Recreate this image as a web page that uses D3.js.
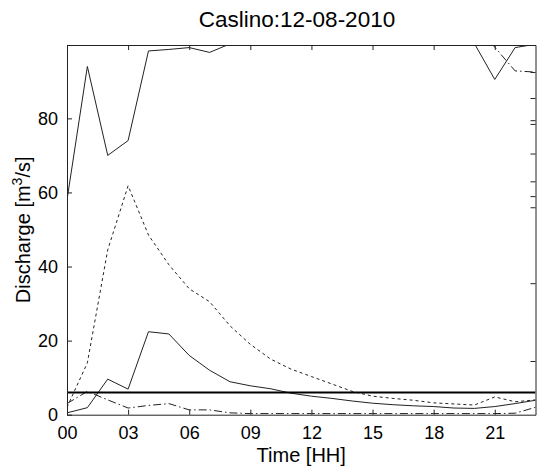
<!DOCTYPE html>
<html>
<head>
<meta charset="utf-8">
<script src="https://cdn.jsdelivr.net/npm/d3@7"></script>
<style>
  body { margin: 0; background: #fff; }
  text { font-family: Arial, "Liberation Sans", sans-serif; fill: #000; }
</style>
</head>
<body>
<div id="chart"></div>
<script>
(function(d3) {
  'use strict';

  var hours = [0, 1, 2, 3, 4, 5, 6, 7, 8, 9, 10, 11, 12, 13, 14, 15, 16, 17, 18, 19, 20, 21, 22, 23];
  var xTicks = [0, 3, 6, 9, 12, 15, 18, 21];
  var xTickLabels = ['00', '03', '06', '09', '12', '15', '18', '21'];
  var yTicks = [0, 20, 40, 60, 80];
  var rightTicks = [92.5, 85.5, 79.5, 78.5, 70.5, 63, 59, 56, 35.5, 14.5];
  var threshold = 6;

  // upper envelope (solid), goes off the top of the plot
  var upperSolid = [58, 94, 70, 74, 98.2, 98.6, 99.1, 97.8, 100.1, 103, 104, 105, 105, 104,
                    104, 103, 103, 102, 102, 101, 100.2, 90.5, 99.1, 100];
  // upper dash-dot, only visible at the end
  var upperDashDot = [106, 106, 106, 106, 106, 106, 106, 106, 106, 106, 106, 106, 106, 106,
                      106, 106, 106, 106, 106, 106, 106, 99.2, 92.8, 92.5];
  var dashed = [2, 14, 44.5, 61.8, 48.5, 40.5, 34, 30.5, 24, 19, 15, 12.3, 10.3, 8.3,
                6.3, 5.0, 4.4, 3.9, 3.2, 2.9, 2.6, 4.8, 3.5, 4.0];
  var middle = [0.5, 1.9, 9.6, 6.9, 22.4, 21.8, 16, 12, 8.9, 7.8, 7, 5.8, 5.0, 4.4,
                3.7, 3.1, 2.7, 2.4, 2.2, 1.8, 1.7, 2.2, 3.0, 3.9];
  var lowerDashDot = [3, 6.3, 4.0, 1.8, 2.5, 3.0, 1.3, 1.3, 0.5, 0.3, 0.3, 0.3, 0.3, 0.3,
                      0.3, 0.3, 0.3, 0.3, 0.3, 0.3, 0.3, 0.3, 0.4, 2];

  var series = [
    { values: upperSolid, dash: null },
    { values: upperDashDot, dash: '8,3,1.5,3' },
    { values: dashed, dash: '3,3' },
    { values: middle, dash: null },
    { values: lowerDashDot, dash: '8,3,1.5,3' }
  ];

  var width = 539;
  var height = 468;
  var margin = { top: 45, right: 3.5, bottom: 53.3, left: 67 };
  var innerW = width - margin.left - margin.right;
  var innerH = height - margin.top - margin.bottom;

  var x = d3.scaleLinear().domain([0, 23]).range([0, innerW]);
  var y = d3.scaleLinear().domain([0, 99.8]).range([innerH, 0]);

  var svg = d3.select('#chart')
    .append('svg')
    .attr('width', width)
    .attr('height', height);

  svg.append('defs').append('clipPath')
    .attr('id', 'plot-clip')
    .append('rect')
    .attr('width', innerW)
    .attr('height', innerH);

  var g = svg.append('g')
    .attr('transform', 'translate(' + margin.left + ',' + margin.top + ')');

  var line = d3.line()
    .x(function(d, i) { return x(hours[i]); })
    .y(function(d) { return y(d); });

  var plot = g.append('g').attr('clip-path', 'url(#plot-clip)');

  plot.selectAll('path.series')
    .data(series)
    .enter()
    .append('path')
    .attr('class', 'series')
    .attr('d', function(d) { return line(d.values); })
    .attr('fill', 'none')
    .attr('stroke', '#222')
    .attr('stroke-width', 1)
    .attr('stroke-dasharray', function(d) { return d.dash; });

  plot.append('line')
    .attr('x1', 0)
    .attr('x2', innerW)
    .attr('y1', y(threshold))
    .attr('y2', y(threshold))
    .attr('stroke', '#000')
    .attr('stroke-width', 2);

  // axes, MATLAB style: ticks pointing inward on all four sides
  var bottomAxis = d3.axisBottom(x)
    .tickValues(xTicks)
    .tickSizeInner(-5)
    .tickSizeOuter(0)
    .tickPadding(12)
    .tickFormat(function(d, i) { return xTickLabels[i]; });

  var leftAxis = d3.axisLeft(y)
    .tickValues(yTicks)
    .tickSizeInner(-5)
    .tickSizeOuter(0)
    .tickPadding(9);

  var gx = g.append('g')
    .attr('transform', 'translate(0,' + innerH + ')')
    .call(bottomAxis);

  var gy = g.append('g').call(leftAxis);

  g.append('g')
    .call(d3.axisTop(x).tickValues(xTicks).tickSizeInner(-5).tickSizeOuter(0).tickFormat(''));

  g.append('g')
    .attr('transform', 'translate(' + innerW + ',0)')
    .call(d3.axisRight(y).tickValues(rightTicks).tickSizeInner(-5).tickSizeOuter(0).tickFormat(''));

  g.selectAll('.domain').attr('stroke', '#222');
  g.selectAll('.tick line').attr('stroke', '#222');

  gx.selectAll('text').style('font-size', '18px');
  gy.selectAll('text').style('font-size', '18px');

  svg.append('text')
    .attr('x', 297)
    .attr('y', 27)
    .attr('text-anchor', 'middle')
    .style('font-size', '22.5px')
    .text('Caslino:12-08-2010');

  svg.append('text')
    .attr('x', margin.left + innerW / 2)
    .attr('y', 461.5)
    .attr('text-anchor', 'middle')
    .style('font-size', '20px')
    .text('Time [HH]');

  var yLabel = svg.append('text')
    .attr('transform', 'translate(30,' + (margin.top + innerH / 2) + ') rotate(-90)')
    .attr('text-anchor', 'middle')
    .style('font-size', '20px');
  yLabel.append('tspan').text('Discharge [m');
  yLabel.append('tspan')
    .attr('dy', -8)
    .style('font-size', '14px')
    .text('3');
  yLabel.append('tspan')
    .attr('dy', 8)
    .text('/s]');
})(window.d3);
</script>
</body>
</html>
